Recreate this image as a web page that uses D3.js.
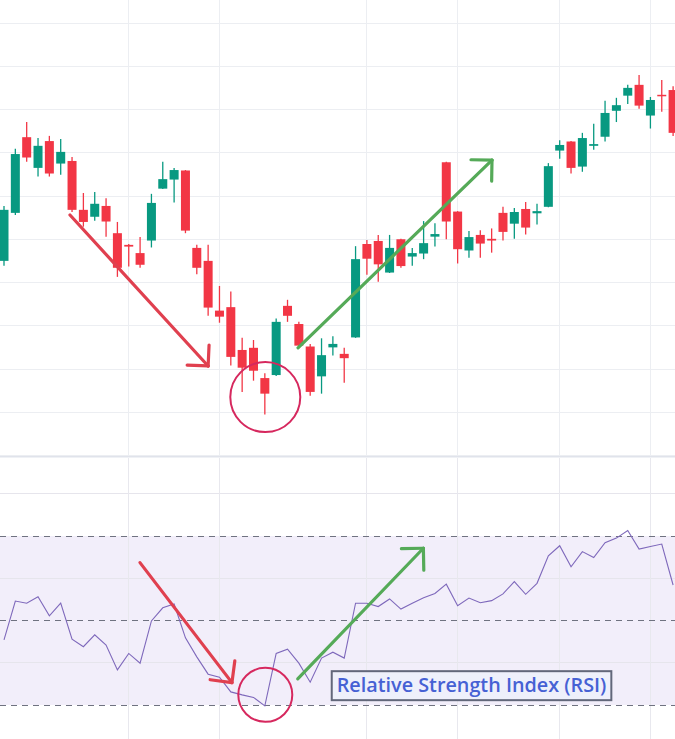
<!DOCTYPE html>
<html>
<head>
<meta charset="utf-8">
<script src="https://cdn.jsdelivr.net/npm/d3@7"></script>
<style>
html,body{margin:0;padding:0;background:#fff;}
svg{display:block;}
</style>
</head>
<body>
<svg id="chart" width="675" height="739"></svg>
<script>
// ---- Data ----
const opens  = [145.0,156.1,173.6,166.5,172.7,167.5,168.1,156.8,155.2,157.7,151.4,148.7,146.8,149.7,161.7,163.8,165.9,148.0,145.0,133.5,134.3,124.4,124.9,117.9,118.6,134.6,130.4,125.2,118.3,125.0,123.5,127.3,148.9,149.6,142.3,150.0,146.0,146.7,150.6,167.8,156.4,147.4,151.0,150.1,156.1,153.6,157.0,156.0,157.5,170.5,172.6,166.8,171.6,173.7,179.7,183.2,185.7,178.6,183.4,184.5];
const highs  = [157.7,170.9,177.1,173.4,173.9,173.2,169.0,160.7,160.9,159.5,154.0,148.9,150.5,160.5,167.9,166.5,166.0,148.7,148.7,139.2,137.9,127.2,126.7,119.0,131.7,136.0,130.9,125.8,127.1,127.6,124.9,148.4,149.8,151.0,151.0,150.1,148.0,154.2,153.7,167.9,156.5,151.9,152.1,152.5,157.5,157.2,158.6,158.2,167.6,172.9,172.7,174.6,176.7,182.0,182.7,185.7,188.0,182.9,186.8,185.4];
const lows   = [143.9,155.6,167.9,164.5,164.5,164.9,156.3,152.9,154.3,150.6,141.3,143.7,143.4,148.1,161.6,158.5,151.4,141.9,132.3,130.7,120.8,114.7,117.3,109.5,118.4,130.9,125.3,113.8,114.3,123.1,116.8,127.2,141.8,140.2,142.2,143.4,143.9,145.4,148.3,150.0,144.4,145.7,145.7,146.9,149.7,150.1,151.1,153.4,157.4,168.6,165.2,165.6,170.7,172.6,177.1,181.3,180.2,175.6,179.5,173.9];
const closes = [156.8,169.7,168.9,171.6,165.2,170.2,156.8,154.0,158.2,154.1,143.4,148.3,144.1,158.4,163.9,166.0,152.0,143.4,134.2,132.1,122.8,120.3,119.6,114.3,130.9,132.3,125.4,114.7,123.2,125.8,122.5,145.4,145.5,144.2,148.0,143.8,146.8,149.1,151.2,154.1,147.7,150.5,149.0,149.7,151.7,156.3,152.7,156.5,166.9,171.8,166.5,173.4,172.0,179.2,181.0,185.0,180.9,182.2,183.2,174.6];
const rsi    = [45.4,54.6,54.1,55.6,51.1,54.1,45.6,43.8,46.6,44.2,38.3,42.2,39.9,49.9,53.0,53.9,45.9,41.4,37.3,36.6,33.1,32.4,31.8,29.8,42.2,43.2,39.9,35.4,41.1,42.5,41.1,54.1,54.1,53.3,55.1,52.7,54.1,55.4,56.4,58.6,53.5,55.3,54.2,54.7,56.3,59.2,56.2,58.8,65.3,67.7,62.7,66.3,64.9,68.4,69.5,71.3,66.9,67.5,68.1,58.4];
const priceTicks = [100,110,120,130,140,150,160,170,180,190,200];
const rsiGridTicks = [40,60,80];
const rsiBandTicks = [30,50,70];
const timeGridIdx = [11,19,32,40,49,57];
const labelText = "Relative Strength Index (RSI)";
// annotations in data coordinates [index, value]
const priceArrows = [
  {from:[5.82,155.6], to:[18.0,120.7], color:"#e0404f"},
  {from:[25.93,124.9], to:[43.03,168.3], color:"#55aa58"}
];
const rsiArrows = [
  {from:[11.99,63.7], to:[20.1,35.3], color:"#e0404f"},
  {from:[25.9,36.2], to:[36.98,67.1], color:"#55aa58"}
];
const priceCircle = {c:[23.04,113.5], r:35};
const rsiCircle = {c:[23.04,32.4], r:27};
const labelAnchor = [28.9, 33.2];

// ---- Chart ----
const W = 675, H = 739;
const svg = d3.select("#chart");
const n = closes.length;
const x = d3.scaleLinear().domain([0, n-1]).range([4, 673.1]);
const yP = d3.scaleLinear().domain([100, 200]).range([455.5, 23]);
const yR = d3.scaleLinear().domain([30, 70]).range([705, 536]);
const candleW = 9;
const UP = "#089981", DOWN = "#f23645";

const defs = svg.append("defs");
defs.append("clipPath").attr("id","clipTop").append("rect").attr("x",0).attr("y",0).attr("width",W).attr("height",456);
defs.append("clipPath").attr("id","clipBot").append("rect").attr("x",0).attr("y",458).attr("width",W).attr("height",H-458);

// top pane grid
const gTop = svg.append("g").attr("clip-path","url(#clipTop)");
gTop.selectAll("line.hg").data(priceTicks).join("line")
  .attr("x1",0).attr("x2",W).attr("y1",d=>yP(d)).attr("y2",d=>yP(d))
  .attr("stroke","#eceef2").attr("stroke-width",1).attr("shape-rendering","crispEdges");
gTop.selectAll("line.vg").data(timeGridIdx).join("line")
  .attr("x1",d=>x(d)).attr("x2",d=>x(d)).attr("y1",0).attr("y2",456)
  .attr("stroke","#eceef2").attr("stroke-width",1).attr("shape-rendering","crispEdges");

// bottom pane
const gBot = svg.append("g").attr("clip-path","url(#clipBot)");
gBot.append("rect").attr("x",0).attr("width",W)
  .attr("y",yR(70)).attr("height",yR(30)-yR(70)).attr("fill","#f2eefa");
gBot.selectAll("line.rg").data(rsiGridTicks).join("line")
  .attr("x1",0).attr("x2",W).attr("y1",d=>yR(d)).attr("y2",d=>yR(d))
  .attr("stroke","#e6e5ec").attr("stroke-width",1).attr("shape-rendering","crispEdges");
gBot.selectAll("line.vg").data(timeGridIdx).join("line")
  .attr("x1",d=>x(d)).attr("x2",d=>x(d)).attr("y1",458).attr("y2",H)
  .attr("stroke","#e8e8ee").attr("stroke-width",1).attr("shape-rendering","crispEdges");
gBot.selectAll("line.band").data(rsiBandTicks).join("line")
  .attr("x1",0).attr("x2",W).attr("y1",d=>yR(d)).attr("y2",d=>yR(d))
  .attr("stroke","#6f7280").attr("stroke-width",1).attr("stroke-dasharray","6,5")
  .attr("shape-rendering","crispEdges");

// separator
svg.append("line").attr("x1",0).attr("x2",W).attr("y1",456.8).attr("y2",456.8)
  .attr("stroke","#e0e3eb").attr("stroke-width",1.6);

// candles
const candles = gTop.selectAll("g.c").data(d3.range(n)).join("g");
candles.append("line")
  .attr("x1",i=>x(i)).attr("x2",i=>x(i))
  .attr("y1",i=>yP(highs[i])).attr("y2",i=>yP(lows[i]))
  .attr("stroke",i=>closes[i]>=opens[i]?UP:DOWN).attr("stroke-width",1.3);
candles.append("rect")
  .attr("x",i=>x(i)-candleW/2).attr("width",candleW)
  .attr("y",i=>yP(Math.max(opens[i],closes[i])))
  .attr("height",i=>Math.max(1.5, Math.abs(yP(opens[i])-yP(closes[i]))))
  .attr("fill",i=>closes[i]>=opens[i]?UP:DOWN);

// rsi line
gBot.append("path").datum(rsi)
  .attr("d", d3.line().x((d,i)=>x(i)).y(d=>yR(d)))
  .attr("fill","none").attr("stroke","#7e68bb").attr("stroke-width",1.1);

// arrows
function drawArrow(g, a, ys, armLen){
  const x1=x(a.from[0]), y1=ys(a.from[1]), x2=x(a.to[0]), y2=ys(a.to[1]);
  const ang = Math.atan2(y1-y2, x1-x2);
  const arms = [ang+Math.PI/4, ang-Math.PI/4];
  g.append("line").attr("x1",x1).attr("y1",y1).attr("x2",x2).attr("y2",y2)
    .attr("stroke",a.color).attr("stroke-width",3.2).attr("stroke-linecap","round");
  arms.forEach(t=>{
    g.append("line").attr("x1",x2).attr("y1",y2)
      .attr("x2",x2+armLen*Math.cos(t)).attr("y2",y2+armLen*Math.sin(t))
      .attr("stroke",a.color).attr("stroke-width",3.2).attr("stroke-linecap","round");
  });
}
priceArrows.forEach(a=>drawArrow(gTop,a,yP,21));
rsiArrows.forEach(a=>drawArrow(gBot,a,yR,22));

// circles
gTop.append("circle").attr("cx",x(priceCircle.c[0])).attr("cy",yP(priceCircle.c[1])).attr("r",priceCircle.r)
  .attr("fill","none").attr("stroke","#d6285e").attr("stroke-width",2);
gBot.append("circle").attr("cx",x(rsiCircle.c[0])).attr("cy",yR(rsiCircle.c[1])).attr("r",rsiCircle.r)
  .attr("fill","none").attr("stroke","#d6285e").attr("stroke-width",2);

// label
const lx = x(labelAnchor[0]), ly = yR(labelAnchor[1]);
const lbl = svg.append("g");
const txt = lbl.append("text").attr("x",lx+5).attr("y",ly+0.5)
  .attr("font-family","'Open Sans', sans-serif").attr("font-weight",600)
  .attr("font-size",19.8).attr("fill","#4661d4").text(labelText);
const bb = txt.node().getBBox();
lbl.insert("rect","text").attr("x",lx).attr("y",ly-20.3)
  .attr("width",bb.width+10).attr("height",29)
  .attr("fill","#eef0fb").attr("stroke","#62677a").attr("stroke-width",2);
</script>
</body>
</html>
